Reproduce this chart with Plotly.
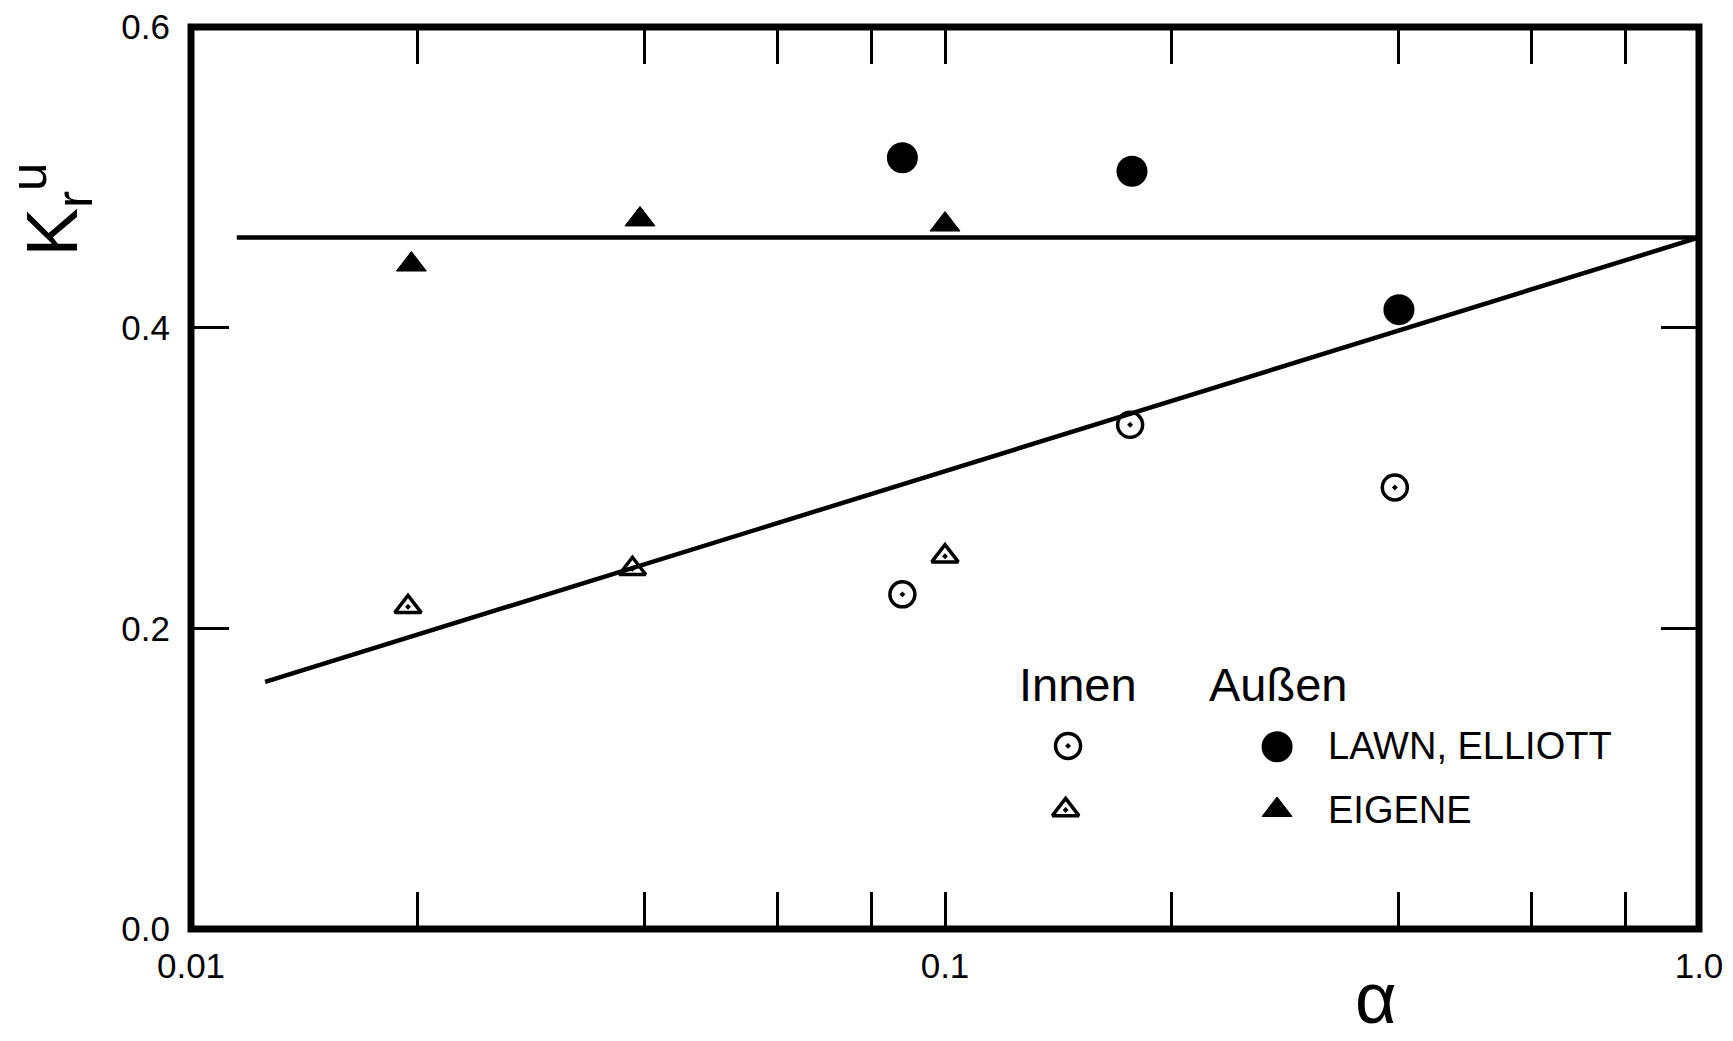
import plotly.graph_objects as go

# ---- data ----
lawn_alpha = [0.0878, 0.177, 0.40]
lawn_aussen = [0.513, 0.504, 0.412]
lawn_innen_alpha = [0.0878, 0.176, 0.395]
lawn_innen = [0.2226, 0.3354, 0.2937]

eig_alpha = [0.0196, 0.0394, 0.100]
eig_aussen = [0.442, 0.472, 0.4686]
eig_innen_alpha = [0.0194, 0.0385, 0.100]
eig_innen = [0.2143, 0.2396, 0.248]

hline_alpha = [0.0115, 1.0]
hline_k = [0.46, 0.46]
fit_alpha = [0.01254, 1.0]
fit_k = [0.1644, 0.46]

x_tickvals = [0.01, 0.02, 0.04, 0.06, 0.08, 0.1, 0.2, 0.4, 0.6, 0.8, 1.0]
x_ticktext = ["0.01", "", "", "", "", "0.1", "", "", "", "", "1.0"]
y_tickvals = [0.0, 0.2, 0.4, 0.6]
y_ticktext = ["0.0", "0.2", "0.4", "0.6"]

FONT = "Liberation Sans, Arial, sans-serif"
BLACK = "#000000"

# marker styles
SYM_LAWN_A = dict(symbol="circle", size=31, color=BLACK, line=dict(width=0, color=BLACK))
SYM_LAWN_I = dict(symbol="circle-open-dot", size=25, color=BLACK, line=dict(width=3.5, color=BLACK))
SYM_EIG_A = dict(symbol="triangle-up", size=26, color=BLACK, line=dict(width=1, color=BLACK))
SYM_EIG_I = dict(symbol="triangle-up-open-dot", size=23, color=BLACK, line=dict(width=3.5, color=BLACK))

fig = go.Figure()

line_style = dict(color=BLACK, width=4.5)
fig.add_trace(go.Scatter(x=hline_alpha, y=hline_k, mode="lines", line=line_style, showlegend=False))
fig.add_trace(go.Scatter(x=fit_alpha, y=fit_k, mode="lines", line=line_style, showlegend=False))

fig.add_trace(go.Scatter(x=lawn_alpha, y=lawn_aussen, mode="markers", marker=SYM_LAWN_A, showlegend=False))
fig.add_trace(go.Scatter(x=lawn_innen_alpha, y=lawn_innen, mode="markers", marker=SYM_LAWN_I, showlegend=False))
fig.add_trace(go.Scatter(x=eig_alpha, y=eig_aussen, mode="markers", marker=SYM_EIG_A, showlegend=False))
fig.add_trace(go.Scatter(x=eig_innen_alpha, y=eig_innen, mode="markers", marker=SYM_EIG_I, showlegend=False))

# ---- custom legend keys on an overlay axis (layout positions, fraction of plot area) ----
legend_keys = [
    (0.5816, 0.203, SYM_LAWN_I),
    (0.7202, 0.202, SYM_LAWN_A),
    (0.580, 0.132, SYM_EIG_I),
    (0.7202, 0.132, SYM_EIG_A),
]
for kx, ky, sym in legend_keys:
    fig.add_trace(go.Scatter(x=[kx], y=[ky], xaxis="x2", yaxis="y2", mode="markers",
                             marker=sym, opacity=1, showlegend=False, hoverinfo="skip"))

legend_font = dict(family=FONT, size=47, color=BLACK)
name_font = dict(family=FONT, size=38, color=BLACK)
annotations = [
    dict(text="Innen", x=0.588, y=0.2707, xref="paper", yref="paper", showarrow=False,
         xanchor="center", yanchor="middle", font=legend_font),
    dict(text="Außen", x=0.7208, y=0.2707, xref="paper", yref="paper", showarrow=False,
         xanchor="center", yanchor="middle", font=legend_font),
    dict(text="LAWN, ELLIOTT", x=0.7527, y=0.203, xref="paper", yref="paper", showarrow=False,
         xanchor="left", yanchor="middle", font=name_font),
    dict(text="EIGENE", x=0.7527, y=0.132, xref="paper", yref="paper", showarrow=False,
         xanchor="left", yanchor="middle", font=name_font),
    # x-axis title
    dict(text="α", x=0.786, y=-0.0765, xref="paper", yref="paper", showarrow=False,
         xanchor="center", yanchor="middle", font=dict(family=FONT, size=72, color=BLACK)),
    # y-axis title
    dict(text="K<sub>r</sub><sup>u</sup>", x=-0.0925, y=0.797, xref="paper", yref="paper",
         showarrow=False, textangle=-90, xanchor="center", yanchor="middle",
         font=dict(family=FONT, size=73, color=BLACK)),
]

fig.update_layout(
    template="none",
    width=1733, height=1041,
    margin=dict(l=191, r=34, t=27, b=112, autoexpand=False),
    paper_bgcolor="white", plot_bgcolor="white",
    showlegend=False,
    annotations=annotations,
    shapes=[dict(type="rect", xref="paper", yref="paper", x0=0, x1=1, y0=0, y1=1,
                 line=dict(color=BLACK, width=7), layer="above")],
    xaxis=dict(type="log", range=[-2, 0], tickmode="array", tickvals=x_tickvals, ticktext=x_ticktext,
               ticks="inside", ticklen=37, tickwidth=3, tickcolor=BLACK, mirror="ticks",
               showline=False, showgrid=False, zeroline=False, automargin=False,
               tickfont=dict(family=FONT, size=35, color=BLACK), ticklabelstandoff=13),
    yaxis=dict(range=[0, 0.6], tickmode="array", tickvals=y_tickvals, ticktext=y_ticktext,
               ticks="inside", ticklen=38, tickwidth=3, tickcolor=BLACK, mirror="ticks",
               showline=False, showgrid=False, zeroline=False, automargin=False,
               tickfont=dict(family=FONT, size=35, color=BLACK), ticklabelstandoff=20),
    xaxis2=dict(overlaying="x", range=[0, 1], visible=False, fixedrange=True),
    yaxis2=dict(overlaying="y", range=[0, 1], visible=False, fixedrange=True),
)

fig.write_html("out.html", config={"displayModeBar": False},
               post_script="document.body.style.margin='0';document.body.style.padding='0';")
